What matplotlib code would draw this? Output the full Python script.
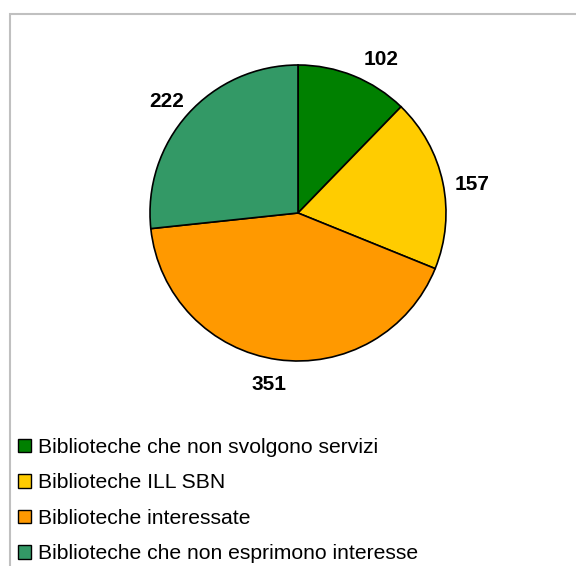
import matplotlib.pyplot as plt
from matplotlib.patches import Patch, Rectangle

categorie = ["Biblioteche che non svolgono servizi", "Biblioteche ILL SBN",
             "Biblioteche interessate", "Biblioteche che non esprimono interesse"]
valori = [102, 157, 351, 222]
colori = ["#008000", "#FFCC00", "#FF9900", "#339966"]

plt.rcParams['font.family'] = ['Liberation Sans', 'DejaVu Sans']

totale = sum(valori)

fig = plt.figure(figsize=(5.76, 5.66), dpi=100)

# cornice grigia
fig.patches.append(Rectangle((10 / 576, -0.05), 1.2, 1 - 14 / 566 + 0.05,
                             transform=fig.transFigure, fill=False,
                             edgecolor='#c0c0c0', linewidth=1.5))

ax = fig.add_axes([(298 - 148) / 576, (566 - 213 - 148) / 566, 296 / 576, 296 / 566])
wedges, testi = ax.pie(valori, colors=colori, startangle=90, counterclock=False,
                       wedgeprops=dict(edgecolor='black', linewidth=1.2),
                       autopct=lambda p: f"{round(p * totale / 100):d}",
                       pctdistance=1.17)[0:3:2]

# piccoli spostamenti delle etichette come nel grafico Excel
spostamenti = [(0.12, -0.05), (0.03, -0.05), (-0.03, 0.0), (-0.02, -0.03)]
for t, (dx, dy) in zip(testi, spostamenti):
    x, y = t.get_position()
    t.set_position((x + dx, y + dy))
    t.set_fontsize(15)
    t.set_fontweight('bold')
ax.set_xlim(-1, 1)
ax.set_ylim(-1, 1)
ax.set_aspect('equal')

maniglie = [Patch(facecolor=c, edgecolor='black', linewidth=1) for c in colori]
fig.legend(maniglie, categorie, loc='upper left', bbox_to_anchor=(18 / 576, 1 - 438 / 566),
           frameon=False, fontsize=15.2, handlelength=0.63, handleheight=0.63,
           handletextpad=0.3, labelspacing=0.78, borderaxespad=0, borderpad=0)

plt.savefig("out.png", dpi=100)
